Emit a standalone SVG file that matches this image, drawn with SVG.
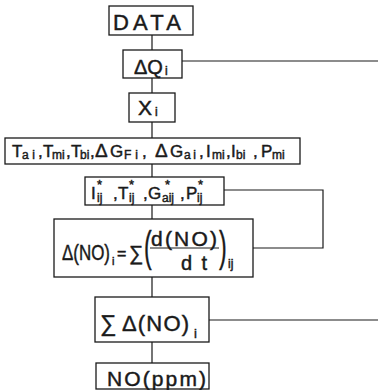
<svg xmlns="http://www.w3.org/2000/svg" width="378" height="390" viewBox="0 0 378 390">
<style>
.b{fill:#fff;stroke:#1a1a1a;stroke-width:1.3}
.c{fill:none;stroke:#1a1a1a;stroke-width:1.2}
text{font-family:"Liberation Sans",Arial,sans-serif;fill:#1a1a1a;stroke:#1a1a1a;stroke-width:0.45}
.m{font-size:17px}
.s{font-size:12px}
.st{font-size:13px}
</style>
<rect width="378" height="390" fill="#fff"/>
<g id="connectors">
<path class="c" d="M152 35V50M152 78V93M152 122V138M152 164V177M152 205V219M152 277V297M152 342V363"/>
<path class="c" d="M182 61H378"/>
<path class="c" d="M224 190H323V248H253"/>
<path class="c" d="M209 320H378"/>
</g>
<g id="data">
<rect class="b" x="109" y="6" width="84" height="29"/>
<text x="113" y="30" font-size="22" textLength="68" lengthAdjust="spacing">DATA</text>
</g>
<g id="dq">
<rect class="b" x="123" y="50" width="59" height="28"/>
<text x="134" y="74" font-size="20">ΔQ</text>
<text x="165" y="75" font-size="12">i</text>
</g>
<g id="x">
<rect class="b" x="129" y="93" width="46" height="29"/>
<text x="138" y="115" font-size="21">X</text>
<text x="155" y="116" font-size="12">i</text>
</g>
<g id="params">
<rect class="b" x="5" y="138" width="295" height="26"/>
<text class="m" x="12" y="157">T</text><text class="s" x="22" y="159" textLength="13">ai</text>
<text class="m" x="38" y="157">,</text>
<text class="m" x="43" y="157">T</text><text class="s" x="52" y="159">mi</text>
<text class="m" x="66" y="157">,</text>
<text class="m" x="71" y="157">T</text><text class="s" x="80" y="159">bi</text>
<text class="m" x="90" y="157">,</text>
<text x="95" y="157" font-size="19">Δ</text><text class="m" x="110" y="157">G</text><text class="s" x="124" y="159" textLength="14">Fi</text>
<text class="m" x="142" y="157">,</text>
<text x="155" y="157" font-size="19">Δ</text><text class="m" x="170" y="157">G</text><text class="s" x="184" y="159" textLength="12">ai</text>
<text class="m" x="199" y="157">,</text>
<text class="m" x="206" y="157">I</text><text class="s" x="212" y="159">mi</text>
<text class="m" x="226" y="157">,</text>
<text class="m" x="231" y="157">I</text><text class="s" x="236" y="159">bi</text>
<text class="m" x="253" y="157">,</text>
<text class="m" x="261" y="157">P</text><text class="s" x="272" y="159">mi</text>
</g>
<g id="stars">
<rect class="b" x="85" y="177" width="139" height="28"/>
<text class="m" x="91" y="199">I</text><text class="st" x="97" y="189">*</text><text class="s" x="97" y="202">ij</text>
<text class="m" x="113" y="199">,</text>
<text class="m" x="118" y="199">T</text><text class="st" x="129" y="189">*</text><text class="s" x="129" y="202">ij</text>
<text class="m" x="143" y="199">,</text>
<text class="m" x="148" y="199">G</text><text class="st" x="165" y="189">*</text><text class="s" x="162" y="202">aij</text>
<text class="m" x="180" y="199">,</text>
<text class="m" x="186" y="199">P</text><text class="st" x="198" y="189">*</text><text class="s" x="197" y="202">ij</text>
</g>
<g id="rate">
<rect class="b" x="54" y="219" width="199" height="58"/>
<text transform="translate(62 260) scale(0.77 1)" font-size="22">Δ(NO)</text>
<text x="112" y="265" font-size="11">i</text>
<text x="117" y="259" font-size="16">=</text>
<text x="129" y="260" font-size="20">∑</text>
<text x="144" y="261" font-size="42" transform="translate(144 0) scale(0.55 1) translate(-144 0)">(</text>
<text x="151" y="246" font-size="21" textLength="66" lengthAdjust="spacing">d(NO)</text>
<line class="c" x1="150" y1="248" x2="219" y2="248"/>
<text x="181" y="270" font-size="20" textLength="26" lengthAdjust="spacing">dt</text>
<text x="219" y="261" font-size="42" transform="translate(219 0) scale(0.55 1) translate(-219 0)">)</text>
<text x="228" y="268" font-size="12">ij</text>
</g>
<g id="sum">
<rect class="b" x="95" y="297" width="114" height="45"/>
<text x="100" y="331" font-size="23">∑</text>
<text x="122" y="331" font-size="22" textLength="67" lengthAdjust="spacing">Δ(NO)</text>
<text x="194" y="338" font-size="13">i</text>
</g>
<g id="no">
<rect class="b" x="96" y="363" width="113" height="26"/>
<text x="107" y="386" font-size="21" textLength="99" lengthAdjust="spacing">NO(ppm)</text>
</g>
</svg>
